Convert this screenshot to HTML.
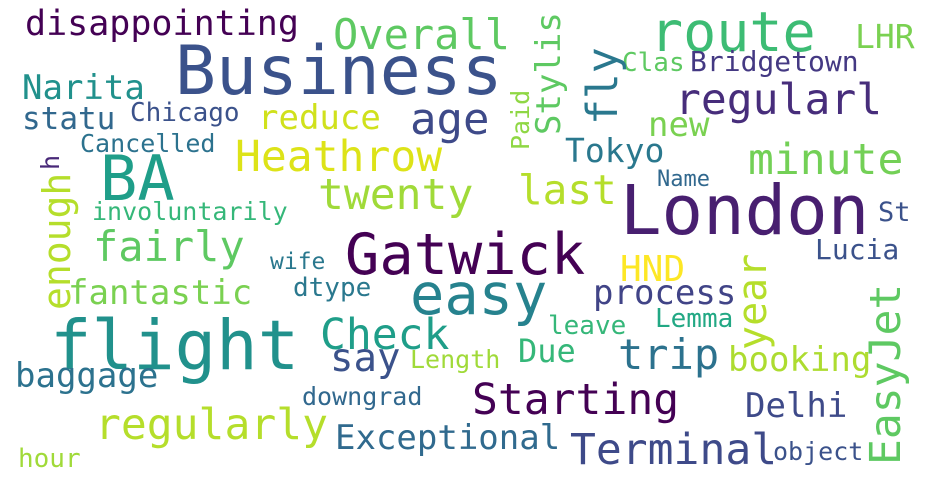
<!DOCTYPE html>
<html>
<head>
<meta charset="utf-8">
<style>
  html, body { margin: 0; padding: 0; background: #fff; }
  #cloud { position: relative; width: 950px; height: 484px; overflow: hidden; background: #fff;
    font-family: "DejaVu Sans Mono", "Liberation Mono", monospace; }
  .w { position: absolute; white-space: nowrap; line-height: 1; transform-origin: 0 0; }
</style>
</head>
<body>
<div id="cloud"></div>
<script>
// word cloud data
const words = ["disappointing","Overall","route","LHR","Business","Narita","Clas","Bridgetown","regularl","statu","Chicago","reduce","age","Cancelled","new","Heathrow","Tokyo","minute","BA","Name","twenty","last","London","involuntarily","St","fairly","Gatwick","HND","Lucia","wife","fantastic","dtype","easy","process","flight","Check","leave","Lemma","say","Due","trip","Length","booking","baggage","downgrad","Starting","Delhi","regularly","Exceptional","Terminal","object","hour","fly","Stylis","Paid","h","enough","year","EasyJet"];
const sizes = [35,42,55,33,68,34,26,28,43,31,26,34,44,25,34,43,33,43,62,22,43,41,69,25,27,42,57,36,28,23,34,26,57,34,69,43,26,26,39,32,42,25,34,34,25,43,34,43,34,43,25,26,43,34,25,25,38,40,43];
const colors = ["#440154","#5ec962","#3dbc74","#7ad151","#3b528b","#21918c","#5ec962","#443983","#472d7b","#31688e","#3b528b","#d0e11c","#3e4a89","#2c728e","#7ad151","#dde318","#2a788e","#73d056","#1f9e89","#31688e","#a0da39","#b5de2b","#481f70","#35b779","#3b528b","#5ec962","#440154","#fde725","#3b528b","#2a788e","#7ad151","#2a788e","#26828e","#414487","#21918c","#1f9e89","#35b779","#22a884","#3b528b","#35b779","#2c728e","#a0da39","#addc30","#2c728e","#31688e","#440154","#3e4a89","#b5de2b","#306a8e","#3e4a89","#3b528b","#a0da39","#2a788e","#5ec962","#8fd744","#482878","#b5de2b","#b5de2b","#5ec962"];
const vertical = [0,0,0,0,0,0,0,0,0,0,0,0,0,0,0,0,0,0,0,0,0,0,0,0,0,0,0,0,0,0,0,0,0,0,0,0,0,0,0,0,0,0,0,0,0,0,0,0,0,0,0,0,1,1,1,1,1,1,1];
// layout (x = left, y = baseline for horizontal; x = box-left, y = bottom for vertical)
const layoutX = [25,333,650,855,175,22,622,690,675,22,130,258,410,80,648,235,565,748,100,657,318,518,620,92,878,93,345,620,815,270,68,293,410,593,50,320,548,655,330,518,618,410,728,15,302,472,745,95,335,570,773,18,582,532,508,38,38,733,865];
const layoutY = [37,50,52,48,96,100,72,72,115,130,122,130,135,152,137,172,162,175,200,188,210,205,235,220,222,262,275,282,260,270,305,297,315,305,370,350,335,328,372,362,370,368,372,388,405,415,418,440,450,465,460,468,125,135,150,170,310,350,465];

const cloud = document.getElementById('cloud');
words.forEach((w, i) => {
  const el = document.createElement('div');
  el.className = 'w';
  el.textContent = w;
  
  
  const s = sizes[i];
  el.style.fontSize = s + 'px';
  el.style.color = colors[i];
  if (vertical[i]) {
    el.style.left = '0px';
    el.style.top = '0px';
    el.style.transform = 'translate(' + layoutX[i] + 'px,' + layoutY[i] + 'px) rotate(-90deg)';
  } else {
    el.style.left = layoutX[i] + 'px';
    el.style.top = (layoutY[i] - 0.846 * s) + 'px';
  }
  cloud.appendChild(el);
});
</script>
</body>
</html>
